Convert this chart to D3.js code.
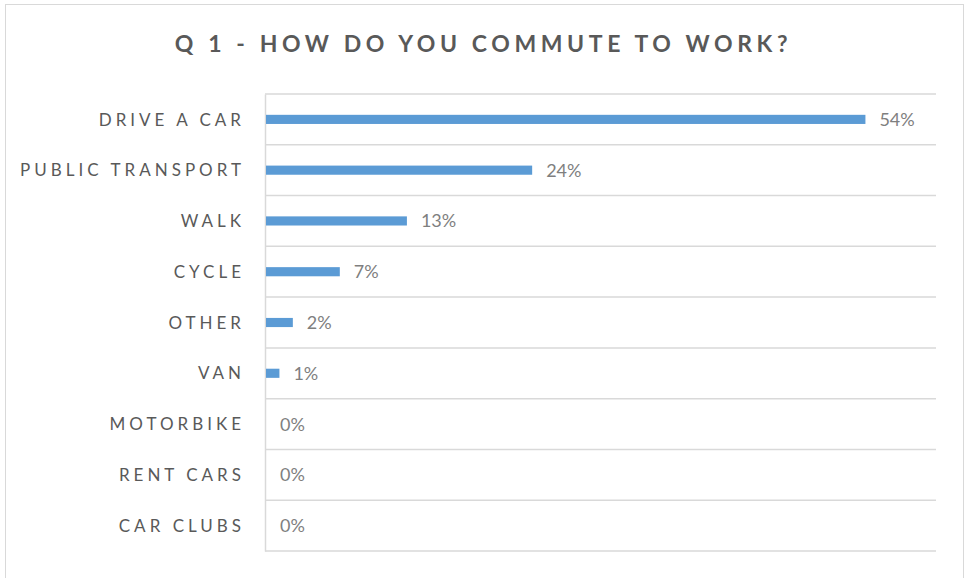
<!DOCTYPE html>
<html>
<head>
<meta charset="utf-8">
<script src="https://cdn.jsdelivr.net/npm/d3@7"></script>
<style>
  body { margin: 0; background: #fff; }
  svg { display: block; }
</style>
</head>
<body>
<div id="chart"></div>
<script>
const TITLE = 'Q 1 - HOW DO YOU COMMUTE TO WORK?';
const categories = ['DRIVE A CAR', 'PUBLIC TRANSPORT', 'WALK', 'CYCLE', 'OTHER',
                    'VAN', 'MOTORBIKE', 'RENT CARS', 'CAR CLUBS'];
const values = [0.536, 0.238, 0.126, 0.066, 0.024, 0.012, 0, 0, 0];
const xDomain = [0, 0.6];

const WIDTH = 965;
const HEIGHT = 578;
const margin = {top: 94, right: 29, bottom: 27, left: 265};
const plotW = WIDTH - margin.left - margin.right;
const plotH = HEIGHT - margin.top - margin.bottom;

const svg = d3.select('#chart')
              .append('svg')
              .attr('width', WIDTH)
              .attr('height', HEIGHT);

// chart frame
svg.append('rect')
   .attr('x', 5.5)
   .attr('y', 4.5)
   .attr('width', 958)
   .attr('height', 600)
   .attr('fill', 'none')
   .attr('stroke', '#d9d9d9')
   .attr('stroke-width', 1);

svg.append('text')
   .attr('x', WIDTH / 2 + 1)
   .attr('y', 52)
   .attr('text-anchor', 'middle')
   .attr('font-family', 'Lato, sans-serif')
   .attr('font-weight', 'bold')
   .attr('font-size', 23)
   .attr('letter-spacing', 4.6)
   .attr('fill', '#595959')
   .text(TITLE);

const g = svg.append('g')
             .attr('transform', 'translate(' + margin.left + ',' + margin.top + ')');

const x = d3.scaleLinear().domain(xDomain).range([0, plotW]);
const y = d3.scaleBand()
            .domain(categories)
            .range([0, plotH])
            .paddingInner(0.82)
            .paddingOuter(0.41);
const step = y.step();

// horizontal separators between categories
const gridY = d3.range(categories.length + 1).map((i) => y.range()[0] + i * step);
g.selectAll('.grid')
 .data(gridY)
 .enter()
 .append('line')
 .attr('class', 'grid')
 .attr('x1', 0)
 .attr('x2', plotW)
 .attr('y1', (d) => d)
 .attr('y2', (d) => d)
 .attr('stroke', '#d9d9d9')
 .attr('stroke-width', 1.5);

// category axis
const yAxis = d3.axisLeft(y).tickSize(0).tickPadding(20);
const axisG = g.append('g').call(yAxis);
axisG.select('.domain')
     .attr('stroke', '#d9d9d9')
     .attr('stroke-width', 1.5);
axisG.selectAll('text')
     .attr('font-family', 'Lato, sans-serif')
     .attr('font-size', 17)
     .attr('letter-spacing', 4)
     .attr('fill', '#595959')
     .attr('dy', '0.36em');

g.selectAll('.bar')
 .data(values)
 .enter()
 .append('rect')
 .attr('class', 'bar')
 .attr('x', 1)
 .attr('y', (d, i) => y(categories[i]))
 .attr('width', (d) => x(d))
 .attr('height', y.bandwidth())
 .attr('fill', '#5b9bd5');

const fmt = d3.format('.0%');
g.selectAll('.val')
 .data(values)
 .enter()
 .append('text')
 .attr('class', 'val')
 .attr('x', (d) => x(d) + 15)
 .attr('y', (d, i) => y(categories[i]) + y.bandwidth() / 2)
 .attr('dy', '0.36em')
 .attr('font-family', 'Lato, sans-serif')
 .attr('font-size', 18)
 .attr('fill', '#7f7f7f')
 .text((d) => fmt(d));
</script>
</body>
</html>
